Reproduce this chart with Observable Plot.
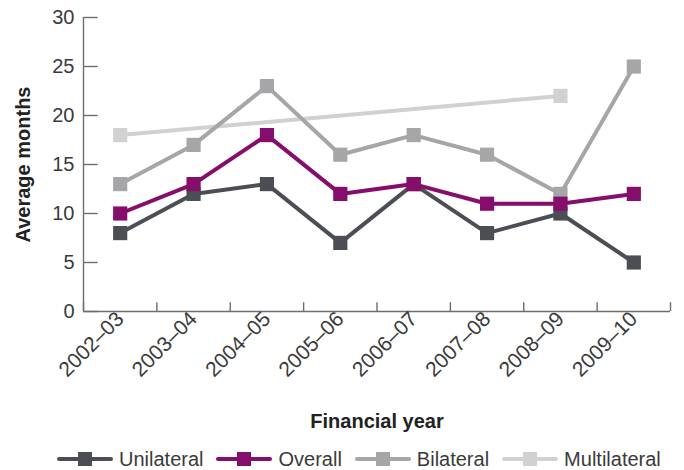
<!DOCTYPE html>
<html>
<head>
<meta charset="utf-8">
<script src="https://cdn.jsdelivr.net/npm/d3@7"></script>
<script src="https://cdn.jsdelivr.net/npm/@observablehq/plot@0.6"></script>
<style>
  html, body { margin: 0; padding: 0; background: #fff; }
  body { width: 684px; height: 470px; overflow: hidden; font-family: "Liberation Sans", Arial, sans-serif; }
  #legend { display: flex; align-items: center; margin-left: 57px; margin-top: 4px; height: 26px; font-size: 20px; line-height: 24px; color: #3a3a3a; white-space: nowrap; }
  #legend .item { display: flex; align-items: center; margin-right: 13px; }
  #legend svg { margin-right: 6px; }
</style>
</head>
<body>
<div id="chart"></div>
<div id="legend"></div>
<script>
const years = ["2002–03", "2003–04", "2004–05", "2005–06", "2006–07", "2007–08", "2008–09", "2009–10"];
const unilateral = [8, 12, 13, 7, 13, 8, 10, 5];
const overall = [10, 13, 18, 12, 13, 11, 11, 12];
const bilateral = [13, 17, 23, 16, 18, 16, 12, 25];
const multilateral = [18, null, null, null, null, null, 22, null];
const yTicks = [0, 5, 10, 15, 20, 25, 30];

const seriesNames = ["Multilateral", "Bilateral", "Unilateral", "Overall"];
const seriesValues = {Multilateral: multilateral, Bilateral: bilateral, Unilateral: unilateral, Overall: overall};
const colors = {Unilateral: "#4b4f55", Overall: "#850d6c", Bilateral: "#a6a5a7", Multilateral: "#d2d1d2"};

const rows = [];
for (const s of seriesNames) {
  seriesValues[s].forEach((v, i) => {
    if (v != null) rows.push({series: s, i: i + 0.5, year: years[i], value: v});
  });
}

const axisColor = "#6d6e71";
const font = "Liberation Sans, Arial, sans-serif";
const bounds = d3.range(years.length + 1);
const centers = years.map((d, i) => i + 0.5);

const marks = [];
marks.push(Plot.ruleX([0], {y1: 0, y2: 30, stroke: axisColor, strokeWidth: 1.4}));
marks.push(Plot.ruleY([0], {x1: 0, x2: years.length, stroke: axisColor, strokeWidth: 1.4}));
marks.push(Plot.ruleY(yTicks, {x1: 0, x2: 0.2, stroke: axisColor, strokeWidth: 1.4}));
marks.push(Plot.ruleX(bounds, {y1: 0, y2: 0.9, stroke: axisColor, strokeWidth: 1.4}));
marks.push(Plot.axisY({ticks: yTicks, tickSize: 0, tickPadding: 9, fontSize: 20, label: null, fill: "#3a3a3a"}));
marks.push(Plot.axisX({ticks: centers, tickFormat: d => years[Math.floor(d)], tickSize: 0, tickPadding: 4, tickRotate: -45, fontSize: 21, label: null, fill: "#3a3a3a"}));
for (const s of seriesNames) {
  const data = rows.filter(r => r.series === s);
  marks.push(Plot.line(data, {x: "i", y: "value", stroke: colors[s], strokeWidth: 4}));
  marks.push(Plot.dot(data, {x: "i", y: "value", symbol: "square", r: 8, fill: colors[s], stroke: "none"}));
}
marks.push(Plot.text(["Financial year"], {frameAnchor: "bottom", textAnchor: "middle", lineAnchor: "middle", dy: 110, text: d => d, fontSize: 20, fontWeight: "bold", fill: "#222"}));
marks.push(Plot.text(["Average months"], {frameAnchor: "left", textAnchor: "middle", lineAnchor: "middle", dx: -60, rotate: -90, text: d => d, fontSize: 20, fontWeight: "bold", fill: "#222"}));

const chart = Plot.plot({
  width: 684,
  height: 442,
  marginLeft: 83,
  marginRight: 14,
  marginTop: 17,
  marginBottom: 131,
  style: {fontFamily: font, background: "#fff", overflow: "visible"},
  x: {type: "linear", domain: [0, years.length], axis: null},
  y: {domain: [0, 30], axis: null},
  marks
});
document.getElementById("chart").appendChild(chart);

const legendOrder = ["Unilateral", "Overall", "Bilateral", "Multilateral"];
const legend = d3.select("#legend");
for (const s of legendOrder) {
  const item = legend.append("div").attr("class", "item");
  const svg = item.append("svg").attr("width", 56).attr("height", 16);
  svg.append("line").attr("x1", 2).attr("x2", 54).attr("y1", 8).attr("y2", 8).attr("stroke", colors[s]).attr("stroke-width", 4).attr("stroke-linecap", "round");
  svg.append("rect").attr("x", 21).attr("y", 1).attr("width", 14).attr("height", 14).attr("fill", colors[s]);
  item.append("span").text(s);
}
</script>
</body>
</html>
